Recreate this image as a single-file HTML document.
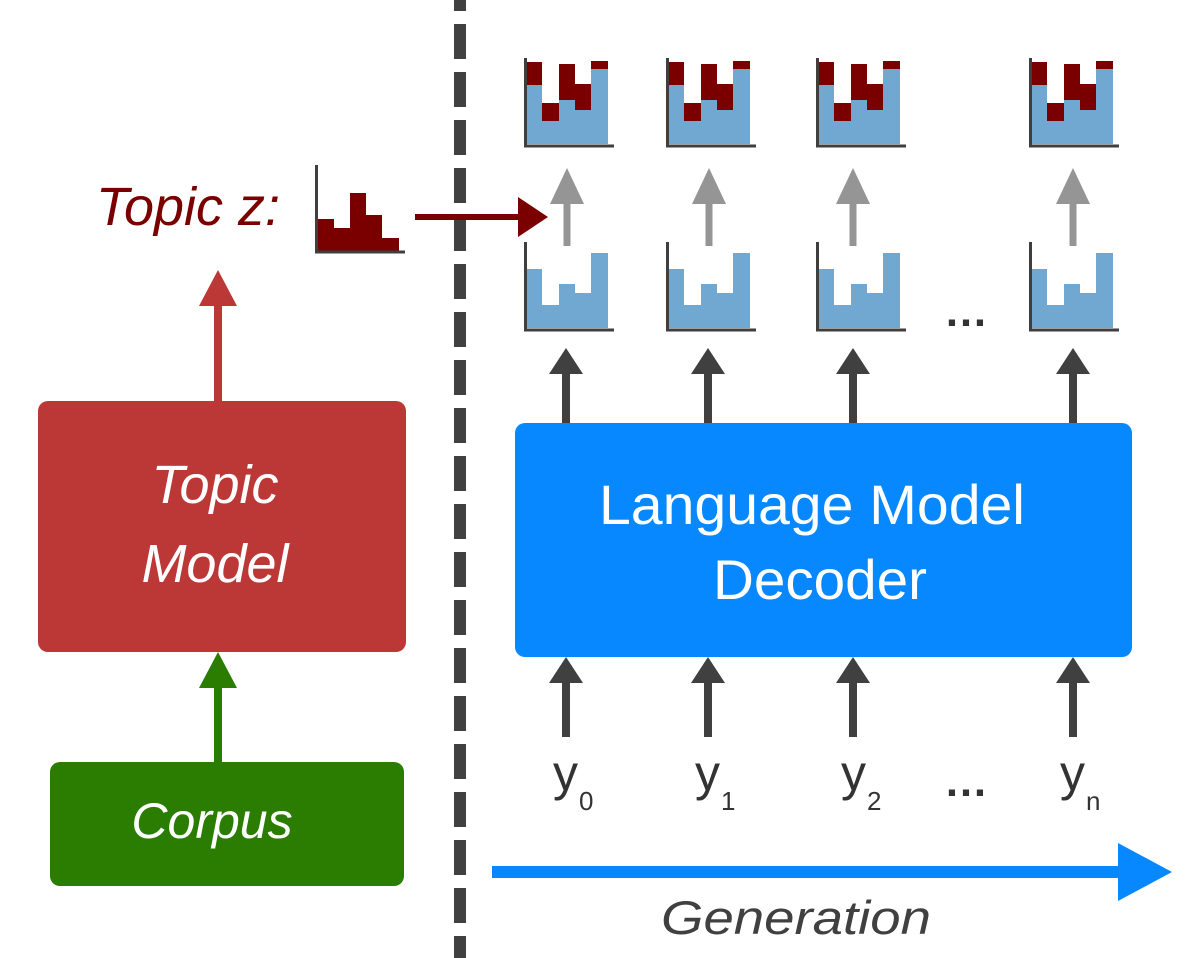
<!DOCTYPE html>
<html><head><meta charset="utf-8"><style>
html,body{margin:0;padding:0;background:#fff;width:1197px;height:958px;overflow:hidden}
svg{display:block}
text{font-family:"Liberation Sans",sans-serif}
</style></head><body>
<svg width="1197" height="958" viewBox="0 0 1197 958" xmlns="http://www.w3.org/2000/svg">
<defs>
<g id="top">
 <rect x="2" y="27" width="16" height="59" fill="#70a8d2"/>
 <rect x="18" y="63" width="17" height="23" fill="#70a8d2"/>
 <rect x="35" y="42" width="16" height="44" fill="#70a8d2"/>
 <rect x="51" y="52" width="16" height="34" fill="#70a8d2"/>
 <rect x="67" y="11" width="17" height="75" fill="#70a8d2"/>
 <rect x="2" y="4" width="16" height="23" fill="#7a0000"/>
 <rect x="18" y="45" width="17" height="18" fill="#7a0000"/>
 <rect x="35" y="6" width="16" height="36" fill="#7a0000"/>
 <rect x="51" y="26" width="16" height="26" fill="#7a0000"/>
 <rect x="67" y="3" width="17" height="8" fill="#7a0000"/>
 <path d="M1.5 0 V88 H90" fill="none" stroke="#3f3f3f" stroke-width="3"/>
</g>
<g id="bot">
 <rect x="2" y="27" width="16" height="59" fill="#70a8d2"/>
 <rect x="18" y="63" width="17" height="23" fill="#70a8d2"/>
 <rect x="35" y="42" width="16" height="44" fill="#70a8d2"/>
 <rect x="51" y="51" width="16" height="35" fill="#70a8d2"/>
 <rect x="67" y="11" width="17" height="75" fill="#70a8d2"/>
 <path d="M1.5 0 V88 H90" fill="none" stroke="#3f3f3f" stroke-width="3"/>
</g>
<g id="gray"><rect x="-3.5" y="34" width="7" height="44" fill="#959595"/><polygon points="0,0 -17,36 17,36" fill="#959595"/></g>
<g id="dark"><rect x="-4" y="20" width="8" height="60" fill="#404040"/><polygon points="0,0 -17,26 17,26" fill="#404040"/></g>
</defs>

<line x1="460" y1="0" x2="460" y2="958" stroke="#404040" stroke-width="12" stroke-dasharray="35 13" stroke-dashoffset="24"/>

<use href="#top" x="524" y="58"/>
<use href="#top" x="666" y="58"/>
<use href="#top" x="816" y="58"/>
<use href="#top" x="1029" y="58"/>
<use href="#gray" x="567" y="168"/>
<use href="#gray" x="709" y="168"/>
<use href="#gray" x="853" y="168"/>
<use href="#gray" x="1073" y="168"/>
<use href="#bot" x="524" y="242"/>
<use href="#bot" x="666" y="242"/>
<use href="#bot" x="816" y="242"/>
<use href="#bot" x="1029" y="242"/>
<text x="966" y="326" font-size="44" font-weight="bold" fill="#333" text-anchor="middle">…</text>

<use href="#dark" x="566" y="348"/>
<use href="#dark" x="708" y="348"/>
<use href="#dark" x="853" y="348"/>
<use href="#dark" x="1073" y="348"/>
<use href="#dark" x="566" y="657"/>
<use href="#dark" x="708" y="657"/>
<use href="#dark" x="853" y="657"/>
<use href="#dark" x="1073" y="657"/>

<rect x="515" y="423" width="617" height="234" rx="10" fill="#0788ff"/>
<text x="812" y="524" font-size="56" fill="#fff" text-anchor="middle" textLength="426" lengthAdjust="spacingAndGlyphs">Language Model</text>
<text x="820" y="599" font-size="56" fill="#fff" text-anchor="middle" textLength="214" lengthAdjust="spacingAndGlyphs">Decoder</text>

<g fill="#333">
<text x="553" y="790" font-size="50">y</text><text x="579" y="810" font-size="26">0</text>
<text x="695" y="790" font-size="50">y</text><text x="721" y="810" font-size="26">1</text>
<text x="841" y="790" font-size="50">y</text><text x="867" y="810" font-size="26">2</text>
<text x="966" y="796" font-size="44" font-weight="bold" text-anchor="middle">…</text>
<text x="1060" y="790" font-size="50">y</text><text x="1086" y="810" font-size="26">n</text>
</g>

<rect x="492" y="866" width="630" height="12" fill="#0788ff"/>
<polygon points="1118,843 1172,872 1118,901" fill="#0788ff"/>
<text x="796" y="934" font-size="47" font-style="italic" fill="#404040" text-anchor="middle" textLength="270" lengthAdjust="spacingAndGlyphs">Generation</text>

<text x="96" y="225" font-size="54" font-style="italic" fill="#7a0000" textLength="184" lengthAdjust="spacingAndGlyphs">Topic z:</text>
<rect x="317" y="219" width="17" height="32" fill="#7a0000"/>
<rect x="334" y="228" width="16" height="23" fill="#7a0000"/>
<rect x="350" y="193" width="16" height="58" fill="#7a0000"/>
<rect x="366" y="215" width="16" height="36" fill="#7a0000"/>
<rect x="382" y="238" width="17" height="13" fill="#7a0000"/>
<path d="M316.5 165 V252 H405" fill="none" stroke="#3f3f3f" stroke-width="3"/>
<rect x="415" y="214" width="106" height="6" fill="#7a0000"/>
<polygon points="518,197 548,217 518,237" fill="#7a0000"/>

<rect x="214" y="300" width="8" height="102" fill="#bb3836"/>
<polygon points="218,270 199,306 237,306" fill="#bb3836"/>
<rect x="38" y="401" width="368" height="251" rx="10" fill="#bb3836"/>
<text x="215" y="503" font-size="54" font-style="italic" fill="#fff" text-anchor="middle">Topic</text>
<text x="215" y="582" font-size="54" font-style="italic" fill="#fff" text-anchor="middle">Model</text>

<rect x="214" y="684" width="8" height="78" fill="#2a7d00"/>
<polygon points="218,652 199,688 237,688" fill="#2a7d00"/>
<rect x="50" y="762" width="354" height="124" rx="10" fill="#2a7d00"/>
<text x="212" y="838" font-size="50" font-style="italic" fill="#fff" text-anchor="middle">Corpus</text>
</svg>
</body></html>
